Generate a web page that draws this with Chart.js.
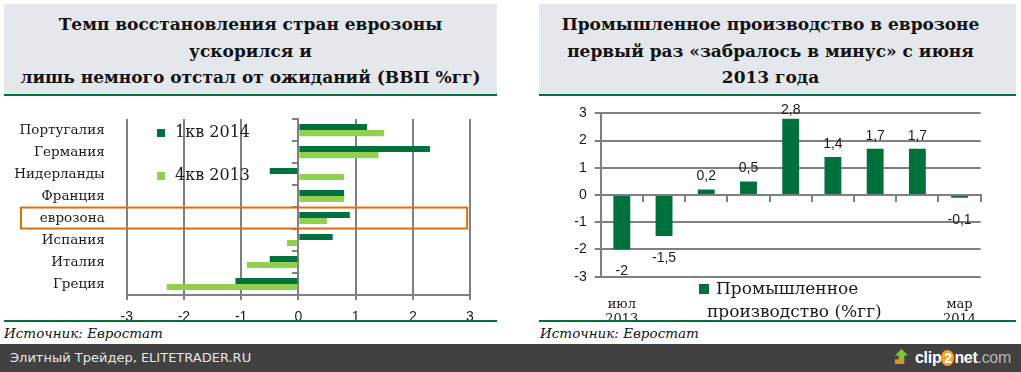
<!DOCTYPE html>
<html>
<head>
<meta charset="utf-8">
<script src="https://cdn.jsdelivr.net/npm/chart.js@4.4.1/dist/chart.umd.min.js"></script>
<style>
  body { margin: 0; width: 1021px; height: 372px; background: #fff; position: relative; overflow: hidden; font-family: "DejaVu Serif", serif; }
  .title { position: absolute; top: 4px; height: 92px; box-sizing: border-box; background: #e4e7eb; border-bottom: 2px solid #00703c;
           font-weight: bold; font-size: 17px; line-height: 26.5px; text-align: center; color: #111; padding-top: 7px; }
  .rule { position: absolute; top: 320px; height: 2px; background: #00703c; }
  .wrap { position: absolute; top: 97px; height: 223px; overflow: hidden; }
  .source { position: absolute; top: 325px; font-style: italic; font-size: 13.5px; color: #111; }
  .footer { position: absolute; left: 0; top: 344px; width: 1021px; height: 28px; background: #414141; }
  .footer .site { position: absolute; left: 10px; top: 6px; font-family: "DejaVu Sans", sans-serif; font-size: 13px; color: #e6e6e6; }
  .logo { position: absolute; left: 894px; top: 4px; font-family: "Liberation Sans", sans-serif; font-weight: bold; font-size: 16px; color: #fff; white-space: nowrap; letter-spacing: -0.3px; }
  .logo .two { display: inline-block; width: 13px; height: 16px; border-radius: 50%; background: #f7a21b; text-align: center; line-height: 16px; font-size: 14px; }
  .logo .com { color: #b5b5b5; font-weight: normal; }
</style>
</head>
<body>

<div class="title" style="left:4px;width:493px;">Темп восстановления стран еврозоны<br>ускорился и<br>лишь немного отстал от ожиданий (ВВП %гг)</div>
<div class="title" style="left:539px;width:477px;padding-right:14px;">Промышленное производство в еврозоне<br>первый раз «забралось в минус» с июня<br>2013 года</div>

<div class="wrap" style="left:0;width:500px;"><canvas id="gdpChart" width="500" height="240"></canvas></div>
<div class="wrap" style="left:540px;width:476px;"><canvas id="industryChart" width="476" height="240"></canvas></div>

<div class="rule" style="left:4px;width:493px;"></div>
<div class="rule" style="left:539px;width:477px;"></div>
<div class="source" style="left:4px;">Источник: Евростат</div>
<div class="source" style="left:540px;">Источник: Евростат</div>

<div class="footer">
  <div class="site">Элитный Трейдер, ELITETRADER.RU</div>
  <div class="logo">
    <svg width="15" height="17" viewBox="0 0 16 18" style="vertical-align:-2px;margin-right:6px">
      <rect x="1" y="12" width="10" height="5" fill="#f08a1c"/>
      <polygon points="8,1 15,8 11,8 11,13 5,13 5,8 1,8" fill="#7cc43a"/>
    </svg><span>clip</span><span class="two">2</span><span>net</span><span class="com">.com</span>
  </div>
</div>

<script>
// GDP growth by country, %yoy
const countries = ['Португалия', 'Германия', 'Нидерланды', 'Франция', 'еврозона', 'Испания', 'Италия', 'Греция'];
const gdpQ1_2014 = [1.2, 2.3, -0.5, 0.8, 0.9, 0.6, -0.5, -1.1];
const gdpQ4_2013 = [1.5, 1.4, 0.8, 0.8, 0.5, -0.2, -0.9, -2.3];

// industrial production, %yoy
const months = ['июл 2013', 'авг 2013', 'сен 2013', 'окт 2013', 'ноя 2013', 'дек 2013', 'янв 2014', 'фев 2014', 'мар 2014'];
const industry = [-2, -1.5, 0.2, 0.5, 2.8, 1.4, 1.7, 1.7, -0.1];

const DARK = '#00703c';
const LIGHT = '#92d050';
const GRID = '#808080';
const TEXT = '#1a1a1a';
const SANS = 'Liberation Sans';
const SERIF = 'DejaVu Serif';

// legend drawn inside the plot, like the excel original
const gdpLegend = {
    id: 'gdpLegend',
    afterDraw(chart) {
        const ctx = chart.ctx;
        ctx.save();
        ctx.font = '16px "' + SERIF + '"';
        ctx.textBaseline = 'middle';
        chart.data.datasets.forEach((ds, i) => {
            const y = 36 + i * 43;
            ctx.fillStyle = ds.backgroundColor;
            ctx.fillRect(157, y - 4, 8, 8);
            ctx.fillStyle = TEXT;
            ctx.fillText(ds.label, 175, y);
        });
        ctx.restore();
    }
};

// orange frame around the eurozone row
const euroFrame = {
    id: 'euroFrame',
    afterDraw(chart) {
        const ctx = chart.ctx;
        const y = chart.scales.y.getPixelForValue(countries.indexOf('еврозона'));
        const right = chart.scales.x.getPixelForValue(2.95);
        ctx.save();
        ctx.strokeStyle = '#e46c0a';
        ctx.lineWidth = 2;
        ctx.strokeRect(21, y - 10.5, right - 21, 21);
        ctx.restore();
    }
};

new Chart(document.getElementById('gdpChart'), {
    type: 'bar',
    data: {
        labels: countries,
        datasets: [
            { label: '1кв 2014', data: gdpQ1_2014, backgroundColor: DARK },
            { label: '4кв 2013', data: gdpQ4_2013, backgroundColor: LIGHT }
        ]
    },
    options: {
        indexAxis: 'y',
        responsive: false,
        animation: false,
        layout: { padding: { top: 16, right: 30, left: 0, bottom: 0 } },
        datasets: { bar: { categoryPercentage: 0.55, barPercentage: 1 } },
        plugins: { legend: { display: false }, tooltip: { enabled: false } },
        scales: {
            x: {
                min: -3, max: 3,
                ticks: { stepSize: 1, font: { family: SANS, size: 14 }, color: TEXT, padding: 9 },
                grid: { color: GRID, lineWidth: 2, tickLength: 5 },
                border: { color: GRID, width: 2 },
                afterFit: s => { s.height = 42; }
            },
            y: {
                position: 'left',
                grid: { display: false },
                border: { display: false },
                ticks: { font: { family: SERIF, size: 13.5 }, color: TEXT, padding: 14, autoSkip: false },
                afterFit: s => { s.width = 126.7; }
            },
            y2: {
                type: 'category',
                position: { x: 0 },
                offset: true,
                grid: { offset: true, drawOnChartArea: false, color: GRID, lineWidth: 2, tickLength: 5 },
                border: { color: GRID, width: 2 },
                ticks: { display: false }
            }
        }
    },
    plugins: [gdpLegend, euroFrame]
});

const valueLabels = {
    id: 'valueLabels',
    afterDatasetsDraw(chart) {
        const ctx = chart.ctx;
        const meta = chart.getDatasetMeta(0);
        ctx.save();
        ctx.font = '14px "' + SANS + '"';
        ctx.fillStyle = TEXT;
        ctx.textAlign = 'center';
        ctx.textBaseline = 'middle';
        meta.data.forEach((bar, i) => {
            const v = industry[i];
            const y = v >= 0 ? Math.max(bar.y - 13, chart.chartArea.top - 3) : bar.y + 22;
            ctx.fillText(String(v).replace('.', ','), bar.x, y);
        });
        ctx.restore();
    }
};

const industryLegend = {
    id: 'industryLegend',
    afterDraw(chart) {
        const ctx = chart.ctx;
        const ds = chart.data.datasets[0];
        const words = ds.label.split(' ');
        ctx.save();
        ctx.fillStyle = ds.backgroundColor;
        ctx.fillRect(159, 187, 10, 10);
        ctx.font = '17px "' + SERIF + '"';
        ctx.fillStyle = TEXT;
        ctx.textBaseline = 'middle';
        ctx.fillText(words[0], 176, 193);
        ctx.fillText(words.slice(1).join(' '), 167, 216);
        ctx.restore();
    }
};

new Chart(document.getElementById('industryChart'), {
    type: 'bar',
    data: {
        labels: months,
        datasets: [{ label: 'Промышленное производство (%гг)', data: industry, backgroundColor: DARK }]
    },
    options: {
        responsive: false,
        animation: false,
        layout: { padding: { top: 16.3, right: 35.3, left: 0, bottom: 0 } },
        datasets: { bar: { categoryPercentage: 0.8, barPercentage: 0.5 } },
        plugins: { legend: { display: false }, tooltip: { enabled: false } },
        scales: {
            y: {
                min: -3, max: 3,
                ticks: { stepSize: 1, font: { family: SANS, size: 14 }, color: TEXT, padding: 8 },
                grid: { color: GRID, lineWidth: 2, tickLength: 6 },
                border: { color: GRID, width: 2 },
                afterFit: s => { s.width = 60.7; }
            },
            x: {
                position: { y: 0 },
                offset: true,
                grid: { offset: true, drawOnChartArea: false, color: GRID, lineWidth: 2, tickLength: 6 },
                border: { color: GRID, width: 2 },
                ticks: { display: false }
            },
            x2: {
                type: 'category',
                position: 'bottom',
                offset: true,
                grid: { display: false },
                border: { display: false },
                ticks: {
                    font: { family: SERIF, size: 13 }, color: TEXT, padding: 12,
                    autoSkip: false, maxRotation: 0,
                    callback: (v, i) => (i === 0 || i === months.length - 1) ? months[i].split(' ') : ''
                },
                afterFit: s => { s.height = 60.3; }
            }
        }
    },
    plugins: [valueLabels, industryLegend]
});
</script>
</body>
</html>
